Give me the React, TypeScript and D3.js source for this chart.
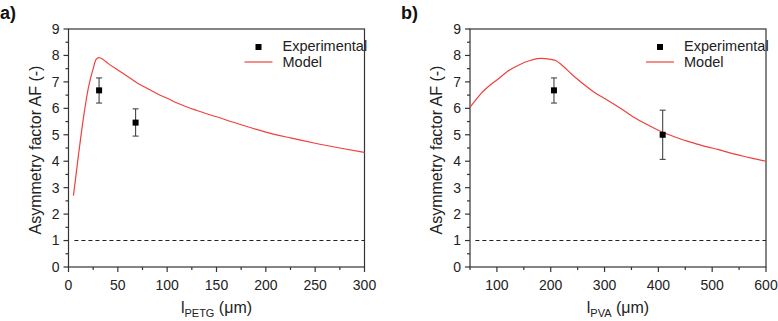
import React from "react";
import * as d3 from "d3";

// Panel a: PETG layer thickness
const petgX = [5, 10, 15, 20, 25, 28, 31, 35, 40, 50, 60, 70, 80, 90, 100, 110, 120, 130, 150, 175, 200, 225, 250, 275, 300];
const petgModel = [2.7, 4.2, 5.6, 6.75, 7.5, 7.85, 7.92, 7.85, 7.7, 7.45, 7.2, 6.95, 6.75, 6.55, 6.38, 6.2, 6.05, 5.92, 5.68, 5.38, 5.1, 4.88, 4.68, 4.5, 4.33];
const petgExpX = [31, 68];
const petgExpY = [6.68, 5.46];
const petgExpLo = [6.2, 4.95];
const petgExpHi = [7.15, 5.98];

// Panel b: PVA layer thickness
const pvaX = [50, 60, 70, 80, 90, 100, 120, 140, 160, 180, 200, 210, 220, 240, 260, 280, 300, 320, 340, 360, 380, 400, 420, 440, 460, 480, 500, 520, 540, 560, 580, 600];
const pvaModel = [6.04, 6.3, 6.55, 6.75, 6.92, 7.07, 7.4, 7.63, 7.8, 7.89, 7.85, 7.8, 7.65, 7.27, 6.93, 6.62, 6.37, 6.13, 5.86, 5.6, 5.38, 5.17, 5.0, 4.85, 4.72, 4.6, 4.5, 4.39, 4.28, 4.18, 4.09, 4.0];
const pvaExpX = [206, 408];
const pvaExpY = [6.68, 5.0];
const pvaExpLo = [6.2, 4.07];
const pvaExpHi = [7.15, 5.93];

const yTicks = [0, 1, 2, 3, 4, 5, 6, 7, 8, 9];
const petgTicks = [0, 50, 100, 150, 200, 250, 300];
const pvaTicks = [100, 200, 300, 400, 500, 600];

const FONT = "'Liberation Sans', Arial, sans-serif";
const AXIS = "#333";
const RED = "#f0403c";

type PanelProps = {
  tag: string;
  left: number;
  right: number;
  xDomain: [number, number];
  xTicks: number[];
  xMinorStep: number;
  xs: number[];
  ys: number[];
  ex: number[];
  ey: number[];
  elo: number[];
  ehi: number[];
  sub: string;
  dashStart: number;
  labelX: number;
  tagX: number;
};

function Panel(p: PanelProps) {
  const top = 29;
  const bottom = 267;
  const x = d3.scaleLinear().domain(p.xDomain).range([p.left, p.right]);
  const y = d3.scaleLinear().domain([0, 9]).range([bottom, top]);
  const line = d3
    .line<number>()
    .x((_, i) => x(p.xs[i]))
    .y((v) => y(v))
    .curve(d3.curveMonotoneX);

  const yMinor = d3.range(0.5, 9, 1);
  const xMinor = d3
    .range(p.xDomain[0], p.xDomain[1] + 0.01, p.xMinorStep)
    .filter((v) => !p.xTicks.includes(v));

  const lx = p.right - 120;
  return (
    <g fontFamily={FONT}>
      <text x={p.tagX} y={19} fontSize={18} fontWeight="bold" fill="#111">
        {p.tag}
      </text>
      {/* frame */}
      <rect x={p.left} y={top} width={p.right - p.left} height={bottom - top} fill="none" stroke={AXIS} strokeWidth={1.2} />
      {/* y ticks */}
      {yTicks.map((t) => (
        <g key={"y" + t}>
          <line x1={p.left - 5} x2={p.left} y1={y(t)} y2={y(t)} stroke={AXIS} strokeWidth={1.2} />
          <text x={p.left - 9} y={y(t)} dy="0.35em" textAnchor="end" fontSize={14} fill="#222">
            {t}
          </text>
        </g>
      ))}
      {yMinor.map((t) => (
        <line key={"ym" + t} x1={p.left - 3} x2={p.left} y1={y(t)} y2={y(t)} stroke={AXIS} strokeWidth={1.2} />
      ))}
      {/* x ticks */}
      {p.xTicks.map((t) => (
        <g key={"x" + t}>
          <line x1={x(t)} x2={x(t)} y1={bottom} y2={bottom + 5} stroke={AXIS} strokeWidth={1.2} />
          <text x={x(t)} y={bottom + 23} textAnchor="middle" fontSize={14} fill="#222">
            {t}
          </text>
        </g>
      ))}
      {xMinor.map((t) => (
        <line key={"xm" + t} x1={x(t)} x2={x(t)} y1={bottom} y2={bottom + 3} stroke={AXIS} strokeWidth={1.2} />
      ))}
      {/* axis titles */}
      <text
        transform={`translate(${p.labelX},${(top + bottom) / 2 + 2}) rotate(-90)`}
        textAnchor="middle"
        dy="0.35em"
        fontSize={16}
        fill="#222"
      >
        Asymmetry factor AF (-)
      </text>
      <text x={(p.left + p.right) / 2} y={313} textAnchor="middle" fontSize={16} fill="#222">
        l
        <tspan fontSize={11} dy={4}>
          {p.sub}
        </tspan>
        <tspan dy={-4}> (μm)</tspan>
      </text>
      {/* reference line AF = 1 */}
      <line
        x1={x(p.dashStart)}
        x2={p.right}
        y1={y(1)}
        y2={y(1)}
        stroke="#222"
        strokeWidth={1.1}
        strokeDasharray="4 3"
      />
      {/* model */}
      <path d={line(p.ys) || ""} fill="none" stroke={RED} strokeWidth={1.2} />
      {/* experimental */}
      {p.ex.map((v, i) => (
        <g key={"e" + i}>
          <line x1={x(v)} x2={x(v)} y1={y(p.elo[i])} y2={y(p.ehi[i])} stroke="#444" strokeWidth={1.1} />
          <line x1={x(v) - 3} x2={x(v) + 3} y1={y(p.elo[i])} y2={y(p.elo[i])} stroke="#444" strokeWidth={1.1} />
          <line x1={x(v) - 3} x2={x(v) + 3} y1={y(p.ehi[i])} y2={y(p.ehi[i])} stroke="#444" strokeWidth={1.1} />
          <rect x={x(v) - 3} y={y(p.ey[i]) - 3} width={6} height={6} fill="#000" />
        </g>
      ))}
      {/* legend */}
      <rect x={lx + 11} y={44} width={6} height={6} fill="#000" />
      <text x={lx + 38} y={46} dy="0.35em" fontSize={14.5} fill="#222">
        Experimental
      </text>
      <line x1={lx} x2={lx + 28} y1={62} y2={62} stroke={RED} strokeWidth={1.2} />
      <text x={lx + 38} y={62} dy="0.35em" fontSize={14.5} fill="#222">
        Model
      </text>
    </g>
  );
}

export default function App() {
  return (
    <svg
      width={778}
      height={321}
      style={{ position: "absolute", left: 0, top: 0, background: "#fff" }}
    >
      <rect width={778} height={321} fill="#fff" />
      <Panel
        tag="a)"
        tagX={0}
        left={68.5}
        right={364.5}
        xDomain={[0, 300]}
        xTicks={petgTicks}
        xMinorStep={25}
        xs={petgX}
        ys={petgModel}
        ex={petgExpX}
        ey={petgExpY}
        elo={petgExpLo}
        ehi={petgExpHi}
        sub="PETG"
        dashStart={6}
        labelX={35}
      />
      <Panel
        tag="b)"
        tagX={401}
        left={470}
        right={766}
        xDomain={[50, 600]}
        xTicks={pvaTicks}
        xMinorStep={50}
        xs={pvaX}
        ys={pvaModel}
        ex={pvaExpX}
        ey={pvaExpY}
        elo={pvaExpLo}
        ehi={pvaExpHi}
        sub="PVA"
        dashStart={60}
        labelX={436}
      />
    </svg>
  );
}
